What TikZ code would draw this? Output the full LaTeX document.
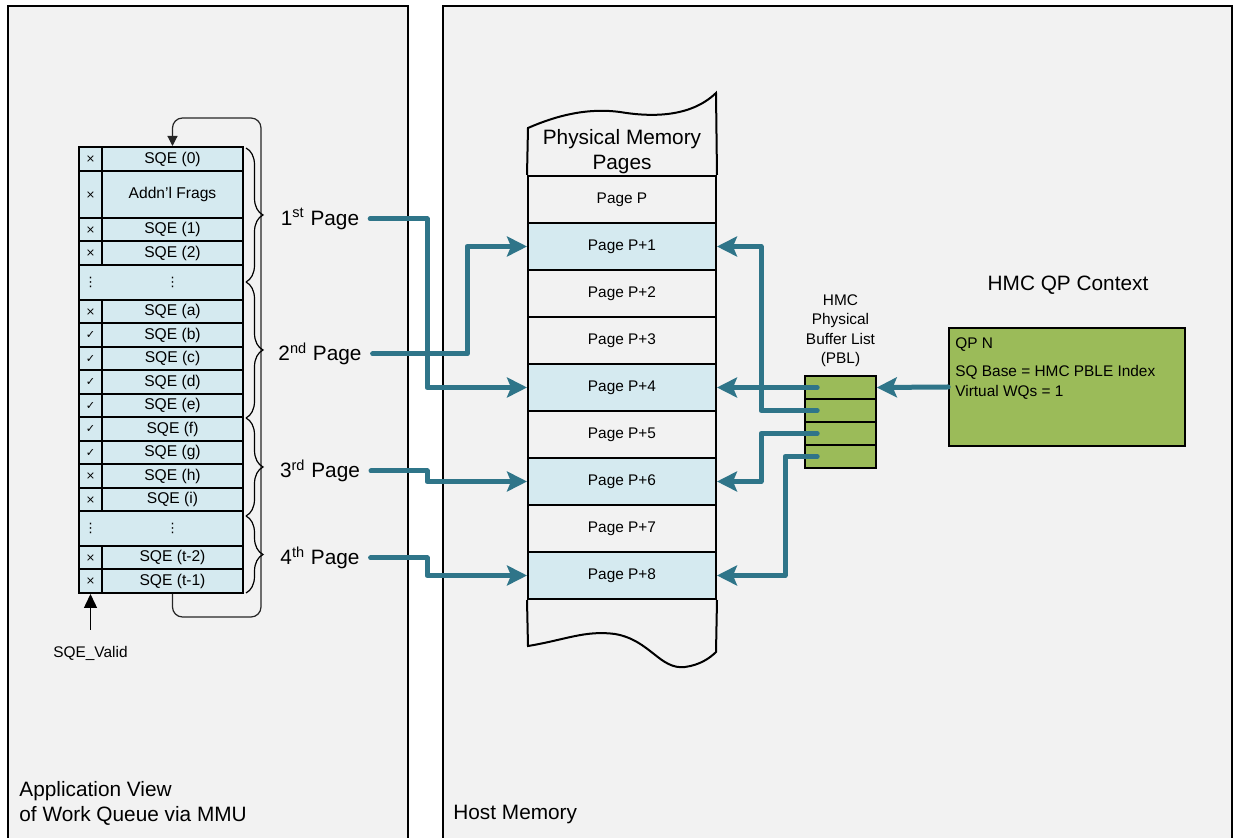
\documentclass[tikz,border=0pt]{standalone}
\usepackage{fontspec}
\setmainfont{Liberation Sans}
\newfontfamily\markfont{DejaVu Sans}
\usepackage{tikz}
\usetikzlibrary{arrows.meta, positioning, decorations.pathreplacing, calc}
\definecolor{panelgray}{HTML}{F2F2F2}
\definecolor{rowblue}{HTML}{D5EAF0}
\definecolor{linkteal}{HTML}{2F7589}
\definecolor{qpgreen}{HTML}{9BBB59}

\begin{document}
\begin{tikzpicture}[
    x=0.5pt, y=-0.5pt,
    panel/.style={draw=black, line width=0.8pt, fill=panelgray},
    sqe/.style={draw, line width=1pt, fill=rowblue, minimum width=70.5pt, minimum height=11.75pt, inner sep=0pt, font=\fontsize{7.8}{9}\selectfont},
    mk/.style={draw, line width=1pt, fill=rowblue, minimum width=11.5pt, minimum height=11.75pt, inner sep=0pt, font=\markfont\fontsize{5.6}{6}\selectfont},
    dotmark/.style={inner sep=0pt, font=\markfont\fontsize{6.5}{7}\selectfont},
    page/.style={draw, line width=1pt, minimum width=94pt, minimum height=23.5pt, inner sep=0pt, font=\fontsize{7.7}{9}\selectfont},
    pbl/.style={draw, line width=0.8pt, fill=qpgreen, minimum width=35.5pt, minimum height=11.5pt, inner sep=0pt},
    bigtext/.style={font=\fontsize{10.4}{12.5}\selectfont},
    smalltext/.style={font=\fontsize{7.7}{9.75}\selectfont},
    tealarr/.style={-{Stealth[length=10pt, width=10pt, inset=2pt]}, line width=2.5pt, linkteal, line cap=round, line join=round},
    pagebrace/.style={decorate, decoration={brace, amplitude=8.5pt}, line width=0.6pt},
]
\useasboundingbox (0,0) rectangle (1233,838);
\fill[white] (0,0) rectangle (1233,838);

% Panels
\draw[panel] (8,6) rectangle (408,880);
\draw[panel] (443,6) rectangle (1232,880);
\node[bigtext, anchor=west, align=left, inner sep=0pt] (appview) at (19,803) {Application View\\of Work Queue via MMU};
\node[bigtext, anchor=west, inner sep=0pt] (hostmem) at (453,815) {Host Memory};

% Left: work queue as seen by the application
\node[mk] (mk0) at (90.5,159.25) [minimum height=12.25pt] {×};
\node[sqe] (sqe0) at (172.5,159.25) [minimum height=12.25pt] {SQE (0)};
\node[mk] (mkfrag) at (90.5,194.75) [minimum height=23.25pt] {×};
\node[sqe] (frag) at (172.5,194.75) [minimum height=23.25pt] {Addn'l Frags};
\node[mk] (mk1) at (90.5,229.75) {×};
\node[sqe] (sqe1) at (172.5,229.75) {SQE (1)};
\node[mk] (mk2) at (90.5,253.25) {×};
\node[sqe] (sqe2) at (172.5,253.25) {SQE (2)};
\node[sqe, minimum width=82pt, minimum height=17.5pt] (dots1) at (161,282.5) {};
\node[dotmark] (dots1a) at (90.5,282.5) {⋮};
\node[dotmark] (dots1b) at (172.5,282.5) {⋮};
\foreach \lbl/\sym [count=\k from 0] in {a/×, b/✓, c/✓, d/✓, e/✓, f/✓, g/✓, h/×, i/×} {
    \node[mk] (mk-\lbl) at (90.5,311.75+23.5*\k) {\sym};
    \node[sqe] (sqe-\lbl) at (172.5,311.75+23.5*\k) {SQE (\lbl)};
}
\node[sqe, minimum width=82pt, minimum height=17.25pt] (dots2) at (161,528.75) {};
\node[dotmark] (dots2a) at (90.5,528.75) {⋮};
\node[dotmark] (dots2b) at (172.5,528.75) {⋮};
\node[mk] (mk-t2) at (90.5,557.75) {×};
\node[sqe] (sqe-t2) at (172.5,557.75) {SQE (t-2)};
\node[mk] (mk-t1) at (90.5,581.25) {×};
\node[sqe] (sqe-t1) at (172.5,581.25) {SQE (t-1)};

% wrap-around from last entry back to the first
\draw[black!85, line width=0.6pt, rounded corners=5pt, -{Triangle[length=5pt, width=5pt]}]
    (sqe-t1.south) -- (172.5,617) -- (261,617) -- (261,118) -- (172.5,118) -- (sqe0.north);

\node[smalltext] (valid) at (90.5,653) {SQE\_Valid};
\draw[line width=0.7pt, -{Triangle[length=7pt, width=6.5pt]}] ([yshift=4.5pt]valid.north) -- (mk-t1.south);

% Braces and page labels
\draw[pagebrace] (246,148) -- (246,282);
\draw[pagebrace] (246,282) -- (246,418);
\draw[pagebrace] (246,418) -- (246,516);
\draw[pagebrace] (246,516) -- (246,593);
\node[bigtext] (lbl1) at (320,219) {1\textsuperscript{st} Page};
\node[bigtext] (lbl2) at (320,354) {2\textsuperscript{nd} Page};
\node[bigtext] (lbl3) at (320,471) {3\textsuperscript{rd} Page};
\node[bigtext] (lbl4) at (320,558) {4\textsuperscript{th} Page};

% Middle: physical memory pages
\node[bigtext, align=center] (memhdr) at (622,152) {Physical Memory\\Pages};
\node[page] (pg0) at (622,199.5) {Page P};
\node[page, fill=rowblue] (pg1) at (622,246.5) {Page P+1};
\node[page] (pg2) at (622,293.5) {Page P+2};
\node[page] (pg3) at (622,340.5) {Page P+3};
\node[page, fill=rowblue] (pg4) at (622,387.5) {Page P+4};
\node[page] (pg5) at (622,434.5) {Page P+5};
\node[page, fill=rowblue] (pg6) at (622,481.5) {Page P+6};
\node[page] (pg7) at (622,528.5) {Page P+7};
\node[page, fill=rowblue] (pg8) at (622,575.5) {Page P+8};
\draw[line width=1pt] (pg0.north west) -- (528,128)
    .. controls (560,114) and (590,108) .. (620,112)
    .. controls (650,117) and (690,118) .. (716,93) -- (pg0.north east);
\draw[line width=1pt] (pg8.south west) -- (528,646)
    .. controls (565,640) and (585,630) .. (615,634)
    .. controls (650,640) and (660,670) .. (685,667)
    .. controls (700,665) and (710,658) .. (716,652) -- (pg8.south east);

% Right: PBL and QP context
\node[pbl] (pbl1) at (840.5,387.5) {};
\node[pbl] (pbl2) at (840.5,410.5) {};
\node[pbl] (pbl3) at (840.5,433.5) {};
\node[pbl] (pbl4) at (840.5,456.5) {};
\node[smalltext, align=center, above=0.5pt of pbl1] (pbllbl) {HMC\\Physical\\Buffer List\\(PBL)};

\node[bigtext] (qptitle) at (1068,285) {HMC QP Context};
\node[draw, line width=0.8pt, fill=qpgreen, minimum width=118pt, minimum height=59pt] (qp) at (1067,387) {};
\node[smalltext, anchor=north west, align=left, inner sep=0pt] (qptext) at (955,337) {QP N\\[4.5pt]SQ Base = HMC PBLE Index\\Virtual WQs = 1};

% Links
\draw[tealarr] ([xshift=2pt]lbl1.east) -| ([xshift=-50pt]pg4.west) -- (pg4.west);
\draw[tealarr] ([xshift=2pt]lbl2.east) -| ([xshift=-30pt]pg1.west) -- (pg1.west);
\draw[tealarr] ([xshift=2pt]lbl3.east) -| ([xshift=-50pt]pg6.west) -- (pg6.west);
\draw[tealarr] ([xshift=2pt]lbl4.east) -| ([xshift=-50pt]pg8.west) -- (pg8.west);

\draw[tealarr] (qp.west) -- (pbl1.east);
\draw[tealarr] ([xshift=6.5pt]pbl1.west) -- (pg4.east);
\draw[tealarr] ([xshift=6.5pt]pbl2.west) -| ([xshift=22pt]pg1.east) -- (pg1.east);
\draw[tealarr] ([xshift=6.5pt]pbl3.west) -| ([xshift=22pt]pg6.east) -- (pg6.east);
\draw[tealarr] ([xshift=6.5pt]pbl4.west) -| ([xshift=34pt]pg8.east) -- (pg8.east);

\end{tikzpicture}
\end{document}
